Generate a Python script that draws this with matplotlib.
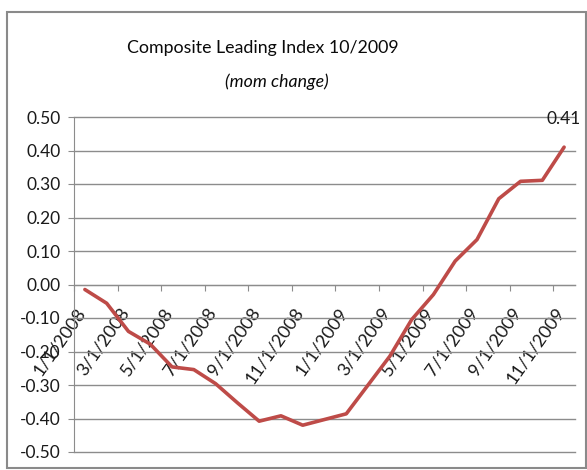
import matplotlib
matplotlib.use("Agg")
import matplotlib.pyplot as plt
from matplotlib import font_manager
from matplotlib.transforms import ScaledTranslation
from matplotlib.patches import Rectangle
import numpy as np

# ---- data ----
months = ["1/1/2008", "2/1/2008", "3/1/2008", "4/1/2008", "5/1/2008", "6/1/2008",
          "7/1/2008", "8/1/2008", "9/1/2008", "10/1/2008", "11/1/2008", "12/1/2008",
          "1/1/2009", "2/1/2009", "3/1/2009", "4/1/2009", "5/1/2009", "6/1/2009",
          "7/1/2009", "8/1/2009", "9/1/2009", "10/1/2009", "11/1/2009"]
values = [-0.015, -0.056, -0.14, -0.178, -0.246, -0.254, -0.296, -0.353, -0.408,
          -0.392, -0.42, -0.403, -0.386, -0.30, -0.214, -0.105, -0.03, 0.07,
          0.134, 0.256, 0.308, 0.311, 0.41]
yticks = [-0.5, -0.4, -0.3, -0.2, -0.1, 0.0, 0.1, 0.2, 0.3, 0.4, 0.5]
title = "Composite Leading Index 10/2009"
subtitle = "(mom change)"

names = {f.name for f in font_manager.fontManager.ttflist}
fam = "Liberation Sans Narrow" if "Liberation Sans Narrow" in names else "Lato"
plt.rcParams["font.family"] = [fam, "DejaVu Sans"]
plt.rcParams["axes.unicode_minus"] = False

W, H = 587, 470
fig = plt.figure(figsize=(W / 100, H / 100), dpi=100)
ax = fig.add_axes([74 / W, 1 - 452 / H, (575 - 74) / W, (452 - 117) / H])

x = np.arange(len(values))
ax.plot(x, values, color="#BE4B48", lw=2.6, solid_joinstyle="round", solid_capstyle="round", zorder=3)

ax.set_xlim(-0.5, len(values) - 0.5)
ax.set_ylim(-0.5, 0.5)
ax.set_yticks(yticks)
ax.yaxis.set_major_formatter(matplotlib.ticker.FormatStrFormatter("%.2f"))
ax.yaxis.grid(True, color="#8C8C8C", lw=1.0)
ax.set_axisbelow(True)
for gl in ax.get_ygridlines():
    gl.set_clip_on(False)

for s in ["top", "right"]:
    ax.spines[s].set_visible(False)
ax.spines["left"].set_color("#8C8C8C")
ax.spines["bottom"].set_color("#8C8C8C")
ax.spines["bottom"].set_position(("data", 0))

# major ticks: category boundaries every 2 months (no labels)
ax.set_xticks(np.arange(-0.5, len(values) - 1, 2))
ax.set_xticklabels([])
ax.tick_params(axis="x", which="major", direction="out", length=4.5, color="#8C8C8C")
# minor ticks carry the labels
lab_idx = np.arange(0, len(values), 2)
ax.set_xticks(lab_idx, minor=True)
ax.set_xticklabels([months[i] for i in lab_idx], minor=True, rotation=55,
                   ha="right", va="top", fontsize=13, color="#1a1a1a")
ax.tick_params(axis="x", which="minor", length=0, pad=14.5)
off = ScaledTranslation(4 / 100, 0, fig.dpi_scale_trans)
for lab in ax.get_xticklabels(minor=True):
    lab.set_transform(lab.get_transform() + off)

ax.tick_params(axis="y", direction="out", length=4.5, color="#8C8C8C",
               labelsize=12.5, pad=5, labelcolor="#1a1a1a")

ax.annotate(f"{values[-1]:.2f}", (x[-1], values[-1]), xytext=(0, 20),
            textcoords="offset points", ha="center", va="center",
            fontsize=12.5, color="#1a1a1a", annotation_clip=False)

fig.text(263 / W, 1 - 48 / H, title, ha="center", va="center", fontsize=12.8, color="#0a0a0a")
fig.text(277 / W, 1 - 82 / H, subtitle, ha="center", va="center", fontsize=12.8,
         style="italic", color="#0a0a0a")

fig.patches.append(Rectangle((7 / W, 1 - 468 / H), (586 - 7) / W, (468 - 12) / H,
                             transform=fig.transFigure, fill=False,
                             edgecolor="#8A8A8A", lw=1.5))

fig.savefig("out.png", dpi=100)
